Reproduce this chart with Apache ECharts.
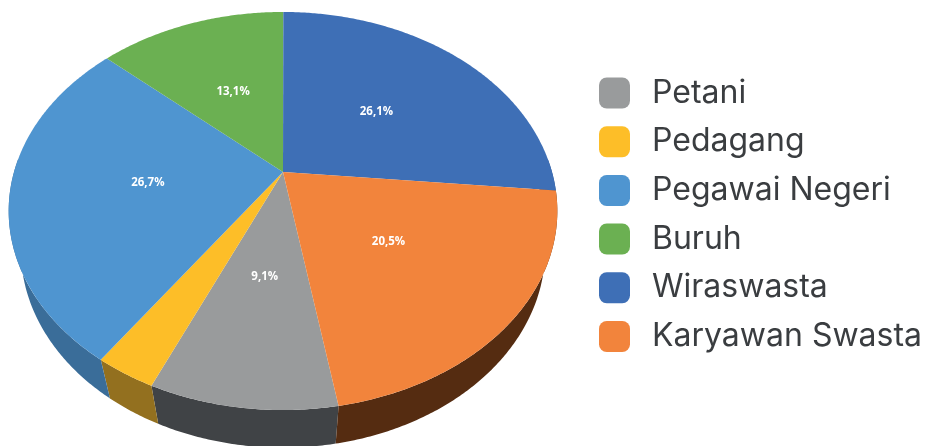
<!DOCTYPE html>
<html>
<head>
<meta charset="utf-8">
<script src="https://cdn.jsdelivr.net/npm/echarts@6/dist/echarts.min.js"></script>
<style>
  html, body { margin: 0; padding: 0; background: #fff; }
  #main { width: 930px; height: 446px; }
</style>
</head>
<body>
<div id="main"></div>
<script>
// data (legend order, as in the sheet); values are shown as typed
const categories = ['Petani', 'Pedagang', 'Pegawai Negeri', 'Buruh', 'Wiraswasta', 'Karyawan Swasta'];
const values = [9.1, 3.0, 26.7, 13.1, 26.1, 20.5];

const colors = ['#999b9c', '#fdbe28', '#4f95d0', '#6bb052', '#3e6fb6', '#f2843c'];
const wallColors = ['#404346', '#93701f', '#3a6d99', '#4d8a37', '#2c528c', '#552c11'];

// 3d look: first slice angle (deg clockwise from the back), tilt and perspective
const FIRST_ANGLE = 170.4;
const CX = 283, CY = 172, K = 269;
const COS = 0.7115, SIN = 0.7027, DIST = 3.585, DEPTH = 0.225;

const total = values.reduce((a, b) => a + b, 0);
const cum = [];
values.reduce((acc, v, i) => { cum[i] = acc; return acc + v; }, 0);

function project(phiDeg, r, up) {
  const p = phiDeg * Math.PI / 180;
  const px = r * Math.sin(p), py = -r * Math.cos(p);
  const Y = py * COS - up * SIN;
  const z = py * SIN + up * COS;
  const s = 1 / (1 - z / DIST);
  return [CX + K * px * s, CY + K * Y * s];
}

function arc(a0, a1, up) {
  const n = Math.max(2, Math.ceil((a1 - a0) / 0.5));
  const pts = [];
  for (let j = 0; j <= n; j++) pts.push(project(a0 + (a1 - a0) * j / n, 1, up));
  return pts;
}

function fmt(v) {
  return v.toFixed(1).replace('.', ',') + '%';
}

function makeRender(i) {
  return function (params, api) {
    const a0 = FIRST_ANGLE + 360 * cum[i] / total;
    const a1 = a0 + 360 * values[i] / total;
    const children = [];

    // side wall, only the part facing us
    [0, 360].forEach(function (k) {
      const s0 = Math.max(a0, 86 + k), s1 = Math.min(a1, 274 + k);
      if (s1 > s0) {
        const top = arc(s0, s1, 0);
        const bot = arc(s0, s1, -DEPTH).reverse();
        children.push({
          type: 'polygon', z2: 1,
          shape: { points: top.concat(bot) },
          style: { fill: wallColors[i] }
        });
      }
    });

    // top face
    children.push({
      type: 'polygon', z2: 5,
      shape: { points: [[CX, CY]].concat(arc(a0, a1, 0)) },
      style: { fill: colors[i] }
    });

    // label (small slice has none)
    if (values[i] >= 5) {
      const lp = project((a0 + a1) / 2, 0.5, 0);
      children.push({
        type: 'text', z2: 10, x: lp[0], y: lp[1],
        style: {
          text: fmt(values[i]), fill: '#ffffff',
          fontSize: 11.5, fontWeight: 'bold', fontFamily: '"Open Sans", sans-serif',
          align: 'center', verticalAlign: 'middle'
        }
      });
    }
    return { type: 'group', children: children };
  };
}

let myChart = echarts.init(document.getElementById('main'));

let option = {
  animation: false,
  backgroundColor: '#ffffff',
  legend: {
    data: categories,
    orient: 'vertical',
    left: 594,
    top: 72,
    icon: 'roundRect',
    itemWidth: 31,
    itemHeight: 31,
    itemGap: 16.7,
    itemStyle: { borderWidth: 0 },
    selectedMode: false,
    textStyle: {
      fontSize: 32,
      lineHeight: 32,
      color: '#3a3d40',
      fontFamily: 'Inter, sans-serif',
      padding: [0, 0, 0, 17]
    }
  },
  series: categories.map(function (name, i) {
    return {
      name: name,
      type: 'custom',
      coordinateSystem: 'none',
      itemStyle: { color: colors[i] },
      data: [[values[i]]],
      renderItem: makeRender(i)
    };
  })
};

myChart.setOption(option);
</script>
</body>
</html>
